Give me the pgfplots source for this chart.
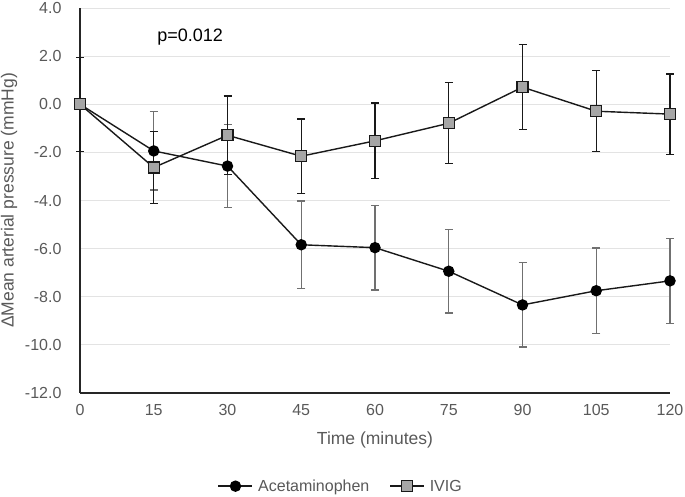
\documentclass[border=0pt]{standalone}
\usepackage{pgfplots}
\usepackage{pgfplotstable}
\pgfplotsset{compat=1.18}
\usepackage{fontspec}
\setmainfont{Liberation Sans}

\definecolor{txtgray}{HTML}{595959}
\definecolor{errgray}{HTML}{707070}
\definecolor{sqfill}{HTML}{A6A6A6}
\definecolor{gridc}{HTML}{E3E3E3}

% time, change, sd
\pgfplotstableread{
t    y      e
0    0      0
15  -1.94   1.63
30  -2.57   1.73
45  -5.84   1.82
60  -5.96   1.76
75  -6.94   1.73
90  -8.34   1.75
105 -7.75   1.77
120 -7.34   1.76
}\acet

\pgfplotstableread{
t    y      e
0    0      1.95
15  -2.63   1.50
30  -1.29   1.63
45  -2.16   1.55
60  -1.52   1.57
75  -0.79   1.68
90   0.71   1.76
105 -0.29   1.68
120 -0.41   1.67
}\ivig

\begin{document}
\begin{tikzpicture}
\begin{axis}[
  scale only axis, width=590pt, height=385pt,
  xmin=0, xmax=120, ymin=-12, ymax=4,
  xtick={0,15,...,120}, ytick={-12,-10,...,4},
  axis lines=left, axis line style={-, line width=1.6pt, black!85},
  major tick length=0pt,
  ymajorgrids, grid style={gridc, line width=0.9pt},
  /pgf/number format/assume math mode=true,
  yticklabel={\pgfmathprintnumber[fixed, fixed zerofill, precision=1]{\tick}},
  tick label style={font=\fontsize{16}{18}\selectfont, text=txtgray},
  yticklabel style={xshift=-15pt},
  xticklabel style={yshift=-8pt},
  xlabel={Time (minutes)}, ylabel={ΔMean arterial pressure (mmHg)},
  label style={font=\fontsize{17.5}{20}\selectfont, text=txtgray},
  xlabel style={at={(axis description cs:0.5,-0.122)}, anchor=center},
  ylabel style={at={(axis description cs:-0.120,0.5)}, anchor=center},
  clip=false,
  legend columns=2,
  legend style={at={(axis description cs:0.442,-0.242)}, anchor=center,
    draw=none, font=\fontsize{16}{18}\selectfont, text=txtgray,
    /tikz/every odd column/.append style={column sep=3pt},
    /tikz/every even column/.append style={column sep=18pt}},
  legend image code/.code={
    \draw[#1, mark repeat=2, mark phase=2] plot coordinates {(0pt,0pt) (17pt,0pt) (34pt,0pt)};},
]
\addplot[black!90, line width=1.4pt, mark=*, mark size=5pt,
  mark options={fill=black, draw=black},
  error bars/.cd, y dir=both, y explicit,
  error bar style={errgray, line width=1.3pt},
  error mark options={errgray, line width=1.3pt, mark size=4pt, rotate=90}]
  table[x=t, y=y, y error=e] {\acet};
\addlegendentry{Acetaminophen}
\addplot[black!90, line width=1.4pt, mark=square*, mark size=5.5pt,
  mark options={fill=sqfill, draw=black!90, line width=1.2pt},
  error bars/.cd, y dir=both, y explicit,
  error bar style={black!90, line width=1.3pt},
  error mark options={black!90, line width=1.3pt, mark size=4pt, rotate=90}]
  table[x=t, y=y, y error=e] {\ivig};
\addlegendentry{IVIG}
\node[font=\fontsize{18}{20}\selectfont, black] at (axis cs:22.4,2.78) {p=0.012};
\end{axis}
\pgfresetboundingbox
\path (-80pt,-104pt) rectangle (605pt,393pt);
\end{tikzpicture}
\end{document}
